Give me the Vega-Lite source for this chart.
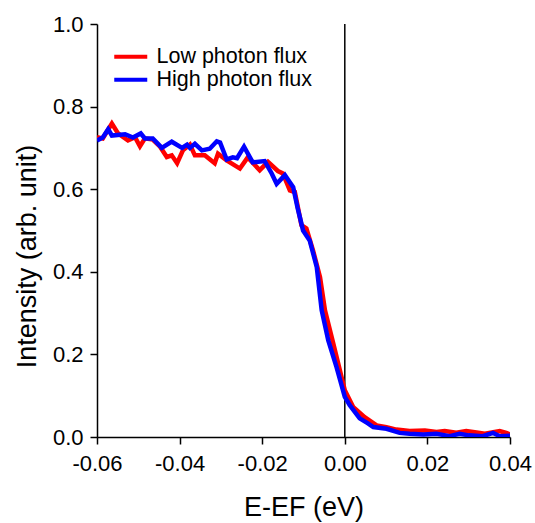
{
  "$schema": "https://vega.github.io/schema/vega-lite/v6.json",
  "autosize": {"type": "none"},
  "width": 413,
  "height": 413,
  "padding": {"left": 97, "top": 24, "right": 25, "bottom": 86},
  "background": "white",
  "config": {
    "view": {"stroke": null},
    "font": "Liberation Sans",
    "axis": {
      "domainColor": "black", "domainWidth": 1.5, "tickColor": "black", "tickWidth": 1.5, "tickSize": 7,
      "labelColor": "black", "labelFont": "Liberation Sans", "labelFontSize": 22,
      "titleColor": "black", "titleFont": "Liberation Sans", "titleFontSize": 27, "titleFontWeight": "normal",
      "grid": false, "labelFlush": false
    },
    "legend": {"labelFont": "Liberation Sans", "labelFontSize": 21.5, "labelColor": "black"}
  },
  "layer": [
    {
      "data": {"values": [{"e": 0}]},
      "mark": {"type": "rule", "color": "black", "strokeWidth": 1.5},
      "encoding": {"x": {"field": "e", "type": "quantitative"}}
    },
    {
      "data": {"values": [
        {"series": "Low photon flux", "e": -0.0600, "intensity": 0.726},
        {"series": "Low photon flux", "e": -0.0586, "intensity": 0.723},
        {"series": "Low photon flux", "e": -0.0564, "intensity": 0.759},
        {"series": "Low photon flux", "e": -0.0549, "intensity": 0.735},
        {"series": "Low photon flux", "e": -0.0525, "intensity": 0.718},
        {"series": "Low photon flux", "e": -0.0508, "intensity": 0.726},
        {"series": "Low photon flux", "e": -0.0496, "intensity": 0.704},
        {"series": "Low photon flux", "e": -0.0484, "intensity": 0.723},
        {"series": "Low photon flux", "e": -0.0465, "intensity": 0.720},
        {"series": "Low photon flux", "e": -0.0448, "intensity": 0.704},
        {"series": "Low photon flux", "e": -0.0431, "intensity": 0.678},
        {"series": "Low photon flux", "e": -0.0419, "intensity": 0.682},
        {"series": "Low photon flux", "e": -0.0406, "intensity": 0.663},
        {"series": "Low photon flux", "e": -0.0392, "intensity": 0.694},
        {"series": "Low photon flux", "e": -0.0375, "intensity": 0.708},
        {"series": "Low photon flux", "e": -0.0363, "intensity": 0.682},
        {"series": "Low photon flux", "e": -0.0339, "intensity": 0.682},
        {"series": "Low photon flux", "e": -0.0315, "intensity": 0.663},
        {"series": "Low photon flux", "e": -0.0307, "intensity": 0.686},
        {"series": "Low photon flux", "e": -0.0286, "intensity": 0.670},
        {"series": "Low photon flux", "e": -0.0254, "intensity": 0.650},
        {"series": "Low photon flux", "e": -0.0235, "intensity": 0.677},
        {"series": "Low photon flux", "e": -0.0206, "intensity": 0.646},
        {"series": "Low photon flux", "e": -0.0186, "intensity": 0.666},
        {"series": "Low photon flux", "e": -0.0162, "intensity": 0.644},
        {"series": "Low photon flux", "e": -0.0150, "intensity": 0.638},
        {"series": "Low photon flux", "e": -0.0133, "intensity": 0.597},
        {"series": "Low photon flux", "e": -0.0121, "intensity": 0.593},
        {"series": "Low photon flux", "e": -0.0105, "intensity": 0.513},
        {"series": "Low photon flux", "e": -0.0093, "intensity": 0.505},
        {"series": "Low photon flux", "e": -0.0077, "intensity": 0.452},
        {"series": "Low photon flux", "e": -0.0060, "intensity": 0.387},
        {"series": "Low photon flux", "e": -0.0048, "intensity": 0.307},
        {"series": "Low photon flux", "e": -0.0028, "intensity": 0.227},
        {"series": "Low photon flux", "e": 0.0000, "intensity": 0.113},
        {"series": "Low photon flux", "e": 0.0020, "intensity": 0.073},
        {"series": "Low photon flux", "e": 0.0048, "intensity": 0.048},
        {"series": "Low photon flux", "e": 0.0077, "intensity": 0.028},
        {"series": "Low photon flux", "e": 0.0101, "intensity": 0.024},
        {"series": "Low photon flux", "e": 0.0125, "intensity": 0.018},
        {"series": "Low photon flux", "e": 0.0157, "intensity": 0.0145},
        {"series": "Low photon flux", "e": 0.0194, "intensity": 0.016},
        {"series": "Low photon flux", "e": 0.0222, "intensity": 0.012},
        {"series": "Low photon flux", "e": 0.0242, "intensity": 0.0145},
        {"series": "Low photon flux", "e": 0.0270, "intensity": 0.0105},
        {"series": "Low photon flux", "e": 0.0294, "intensity": 0.0145},
        {"series": "Low photon flux", "e": 0.0319, "intensity": 0.011},
        {"series": "Low photon flux", "e": 0.0339, "intensity": 0.008},
        {"series": "Low photon flux", "e": 0.0375, "intensity": 0.0145},
        {"series": "Low photon flux", "e": 0.0391, "intensity": 0.0097},
        {"series": "Low photon flux", "e": 0.0400, "intensity": 0.0065},
        {"series": "High photon flux", "e": -0.0600, "intensity": 0.718},
        {"series": "High photon flux", "e": -0.0586, "intensity": 0.725},
        {"series": "High photon flux", "e": -0.0573, "intensity": 0.745},
        {"series": "High photon flux", "e": -0.0564, "intensity": 0.730},
        {"series": "High photon flux", "e": -0.0532, "intensity": 0.733},
        {"series": "High photon flux", "e": -0.0513, "intensity": 0.725},
        {"series": "High photon flux", "e": -0.0494, "intensity": 0.735},
        {"series": "High photon flux", "e": -0.0484, "intensity": 0.723},
        {"series": "High photon flux", "e": -0.0465, "intensity": 0.723},
        {"series": "High photon flux", "e": -0.0443, "intensity": 0.700},
        {"series": "High photon flux", "e": -0.0419, "intensity": 0.715},
        {"series": "High photon flux", "e": -0.0394, "intensity": 0.700},
        {"series": "High photon flux", "e": -0.0382, "intensity": 0.708},
        {"series": "High photon flux", "e": -0.0375, "intensity": 0.700},
        {"series": "High photon flux", "e": -0.0363, "intensity": 0.710},
        {"series": "High photon flux", "e": -0.0346, "intensity": 0.694},
        {"series": "High photon flux", "e": -0.0327, "intensity": 0.698},
        {"series": "High photon flux", "e": -0.0310, "intensity": 0.716},
        {"series": "High photon flux", "e": -0.0302, "intensity": 0.713},
        {"series": "High photon flux", "e": -0.0286, "intensity": 0.672},
        {"series": "High photon flux", "e": -0.0271, "intensity": 0.677},
        {"series": "High photon flux", "e": -0.0261, "intensity": 0.675},
        {"series": "High photon flux", "e": -0.0244, "intensity": 0.703},
        {"series": "High photon flux", "e": -0.0223, "intensity": 0.665},
        {"series": "High photon flux", "e": -0.0194, "intensity": 0.668},
        {"series": "High photon flux", "e": -0.0177, "intensity": 0.638},
        {"series": "High photon flux", "e": -0.0165, "intensity": 0.613},
        {"series": "High photon flux", "e": -0.0145, "intensity": 0.634},
        {"series": "High photon flux", "e": -0.0125, "intensity": 0.605},
        {"series": "High photon flux", "e": -0.0114, "intensity": 0.553},
        {"series": "High photon flux", "e": -0.0109, "intensity": 0.533},
        {"series": "High photon flux", "e": -0.0101, "intensity": 0.500},
        {"series": "High photon flux", "e": -0.0085, "intensity": 0.476},
        {"series": "High photon flux", "e": -0.0068, "intensity": 0.412},
        {"series": "High photon flux", "e": -0.0056, "intensity": 0.307},
        {"series": "High photon flux", "e": -0.0040, "intensity": 0.234},
        {"series": "High photon flux", "e": -0.0020, "intensity": 0.169},
        {"series": "High photon flux", "e": 0.0000, "intensity": 0.097},
        {"series": "High photon flux", "e": 0.0012, "intensity": 0.077},
        {"series": "High photon flux", "e": 0.0036, "intensity": 0.045},
        {"series": "High photon flux", "e": 0.0056, "intensity": 0.033},
        {"series": "High photon flux", "e": 0.0069, "intensity": 0.024},
        {"series": "High photon flux", "e": 0.0101, "intensity": 0.020},
        {"series": "High photon flux", "e": 0.0133, "intensity": 0.010},
        {"series": "High photon flux", "e": 0.0157, "intensity": 0.008},
        {"series": "High photon flux", "e": 0.0190, "intensity": 0.006},
        {"series": "High photon flux", "e": 0.0222, "intensity": 0.008},
        {"series": "High photon flux", "e": 0.0254, "intensity": 0.002},
        {"series": "High photon flux", "e": 0.0278, "intensity": 0.008},
        {"series": "High photon flux", "e": 0.0300, "intensity": 0.004},
        {"series": "High photon flux", "e": 0.0334, "intensity": 0.002},
        {"series": "High photon flux", "e": 0.0359, "intensity": 0.010},
        {"series": "High photon flux", "e": 0.0375, "intensity": 0.002},
        {"series": "High photon flux", "e": 0.0400, "intensity": 0.003}
      ]},
      "mark": {"type": "line", "strokeWidth": 4.5, "clip": true},
      "encoding": {
        "x": {
          "field": "e", "type": "quantitative",
          "scale": {"domain": [-0.06, 0.04], "nice": false, "zero": false},
          "axis": {"values": [-0.06, -0.04, -0.02, 0, 0.02, 0.04], "labelExpr": "replace(format(datum.value, '.2f'), '\u2212', '-')", "title": "E-EF (eV)", "labelPadding": 9, "titlePadding": 20}
        },
        "y": {
          "field": "intensity", "type": "quantitative",
          "scale": {"domain": [0, 1], "nice": false},
          "axis": {"values": [0, 0.2, 0.4, 0.6, 0.8, 1.0], "format": ".1f", "title": "Intensity (arb. unit)", "labelPadding": 7, "titlePadding": 11, "titleY": 232}
        },
        "color": {
          "field": "series", "type": "nominal",
          "scale": {"domain": ["Low photon flux", "High photon flux"], "range": ["#ff0000", "#0000ff"]},
          "legend": {
            "title": null, "orient": "none", "legendX": 23, "legendY": 22,
            "symbolType": "M-3,0H3", "symbolSize": 121, "symbolStrokeWidth": 4,
            "labelOffset": 15, "rowPadding": 0
          }
        }
      }
    }
  ]
}
